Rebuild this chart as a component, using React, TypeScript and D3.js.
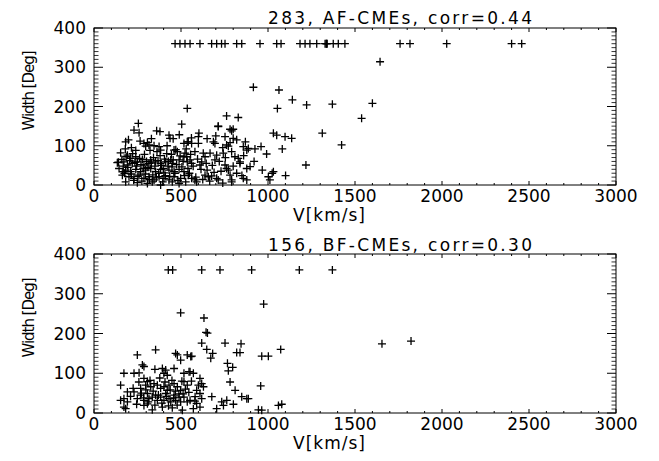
import React from 'react';
import * as d3 from 'd3';

// ---------- data ----------
const xTickValues = [0, 500, 1000, 1500, 2000, 2500, 3000];
const yTickValues = [0, 100, 200, 300, 400];

const afTitle = '283, AF-CMEs, corr=0.44';
const bfTitle = '156, BF-CMEs, corr=0.30';
const xLabel = 'V[km/s]';
const yLabel = 'Width [Deg]';

// AF-CMEs: halo events (width 360)
const afHaloV = [466, 494, 523, 552, 609, 676, 705, 733, 753, 820, 849, 954, 1050, 1075, 1184, 1213, 1241, 1280, 1328, 1334, 1337, 1340, 1375, 1404, 1442, 1759, 1816, 2027, 2400, 2458];

// AF-CMEs: sparse points [V, W]
const afSparse: [number, number][] = [
  [1644, 314], [1600, 208], [1538, 170], [916, 249], [1063, 242], [1140, 217], [1222, 204], [1370, 206],
  [1054, 195], [536, 195], [762, 176], [829, 172], [255, 157], [504, 155], [714, 149], [782, 142],
  [259, 133], [360, 138], [379, 136], [431, 127], [1031, 132], [1098, 123], [1136, 119], [1312, 132],
  [1423, 102], [1082, 92], [1218, 51], [967, 38], [1024, 30], [1101, 24], [992, 79], [960, 98],
  [925, 92], [887, 93], [897, 47], [140, 58], [167, 34],
];

// AF-CMEs: cluster 500-1050 km/s
const afMid: [number, number][] = [
  [714, 150], [800, 142], [791, 138], [603, 132], [600, 123], [753, 123], [800, 119], [820, 115],
  [686, 110], [695, 106], [542, 110], [561, 106], [600, 106], [782, 108], [762, 102], [772, 99],
  [858, 98], [878, 89], [523, 81], [533, 72], [552, 64], [561, 55], [580, 85], [628, 81],
  [638, 72], [619, 59], [609, 51], [667, 81], [705, 76], [695, 64], [743, 81], [791, 85],
  [810, 72], [829, 68], [839, 59], [839, 55], [753, 51], [762, 42], [772, 38], [878, 42],
  [1050, 127], [1031, 34], [542, 25], [561, 17], [580, 13], [590, 8], [638, 25], [657, 21],
  [676, 23], [705, 17], [714, 13], [782, 25], [791, 13], [791, 8], [858, 17], [878, 13],
  [1002, 21], [1011, 13],
];

// AF-CMEs: dense cluster 130-540 km/s
const afLow: [number, number][] = [
  [437, 119], [182, 110], [287, 106], [307, 108], [297, 99], [316, 102], [374, 98], [383, 89],
  [517, 106], [536, 110], [460, 89], [479, 85], [153, 82], [192, 76], [211, 68], [240, 72],
  [172, 59], [134, 57], [192, 51], [220, 55], [249, 59], [278, 65], [287, 51], [316, 55],
  [326, 64], [354, 59], [383, 55], [412, 59], [441, 64], [450, 55], [489, 64], [517, 72],
  [536, 59], [144, 42], [182, 38], [211, 34], [240, 40], [268, 34], [297, 38], [326, 42],
  [354, 34], [383, 40], [402, 31], [431, 38], [460, 34], [489, 40], [517, 34], [163, 25],
  [201, 21], [230, 17], [259, 25], [287, 17], [316, 21], [345, 13], [374, 21], [402, 17],
  [431, 13], [460, 21], [498, 17], [182, 8], [249, 6], [307, 4], [335, 8], [383, 0],
  [450, 8], [489, 4], [527, 8],
];

// AF-CMEs: further points of the dense cluster
const afFill: [number, number][] = [
  [160, 65], [168, 48], [175, 30], [185, 72], [195, 45], [205, 62], [215, 28], [222, 80],
  [228, 12], [235, 58], [245, 48], [252, 22], [262, 68], [270, 52], [275, 10], [283, 42],
  [290, 78], [295, 28], [302, 60], [310, 45], [318, 14], [322, 88], [330, 56], [338, 26],
  [342, 70], [350, 48], [358, 18], [362, 85], [368, 62], [372, 30], [380, 75], [388, 50],
  [395, 8], [398, 42], [405, 66], [410, 24], [418, 80], [425, 48], [428, 60], [435, 22],
  [445, 78], [448, 46], [455, 64], [465, 30], [470, 90], [475, 52], [482, 12], [495, 74],
  [505, 46], [512, 60], [520, 24], [530, 92], [540, 42], [548, 30], [555, 78], [570, 48],
  [585, 20], [595, 66], [615, 40], [625, 14], [645, 55], [650, 38], [665, 10], [680, 50],
  [690, 32], [720, 60], [730, 35], [740, 5], [755, 70], [800, 48], [820, 30], [850, 24],
  [860, 75], [215, 95], [265, 112], [330, 118], [455, 118], [490, 128], [345, 100], [240, 88],
  [180, 92], [198, 115], [420, 100], [560, 120], [650, 118], [700, 125], [740, 95], [870, 110],
  [920, 60], [230, 140],
];

// BF-CMEs: halo events (width 360)
const bfHaloV = [427, 452, 619, 724, 906, 1180, 1370];

// BF-CMEs: sparse points [V, W]
const bfSparse: [number, number][] = [
  [1655, 174], [1822, 181], [975, 274], [498, 252],
];

// BF-CMEs: cluster below 550 km/s
const bfLow: [number, number][] = [
  [249, 146], [354, 159], [469, 150], [479, 146], [536, 146], [556, 142], [498, 133], [278, 121],
  [287, 117], [172, 100], [230, 100], [259, 101], [393, 112], [412, 108], [402, 100], [421, 95],
  [460, 112], [517, 100], [546, 104], [153, 70], [192, 53], [230, 53], [268, 62], [287, 87],
  [307, 79], [297, 70], [326, 66], [345, 74], [364, 70], [383, 62], [402, 66], [421, 57],
  [431, 70], [460, 74], [479, 66], [498, 57], [517, 79], [536, 70], [153, 32], [172, 36],
  [192, 28], [172, 15], [182, 11], [249, 36], [268, 45], [287, 32], [307, 49], [316, 36],
  [335, 40], [354, 45], [364, 32], [383, 40], [402, 32], [412, 49], [431, 36], [441, 28],
  [460, 45], [469, 32], [489, 40], [498, 28], [335, 8], [393, 15], [450, 13], [508, 7],
  [517, 40], [536, 28], [287, 19], [307, 23],
];

// BF-CMEs: cluster 550-1100 km/s
const bfMid: [number, number][] = [
  [632, 239], [644, 203], [652, 201], [619, 176], [648, 160], [682, 150], [671, 138], [562, 143],
  [753, 176], [845, 174], [820, 152], [839, 152], [964, 143], [1002, 143], [1073, 160], [767, 125],
  [797, 115], [772, 106], [552, 104], [571, 100], [609, 87], [619, 74], [600, 70], [629, 66],
  [782, 78], [958, 68], [811, 57], [849, 41], [878, 36], [887, 36], [677, 41], [590, 57],
  [609, 49], [581, 41], [619, 36], [552, 32], [590, 24], [571, 11], [609, 15], [734, 28],
  [744, 19], [763, 32], [801, 22], [705, 11], [945, 8], [964, 7], [1060, 19], [1079, 22],
];

// BF-CMEs: further points of the dense cluster
const bfFill: [number, number][] = [
  [210, 42], [225, 62], [245, 22], [258, 78], [272, 50], [285, 38], [298, 58], [312, 28],
  [322, 82], [340, 55], [350, 20], [370, 45], [378, 88], [390, 25], [408, 78], [418, 42],
  [428, 18], [438, 58], [448, 82], [458, 38], [468, 55], [478, 20], [488, 48], [505, 80],
  [512, 48], [525, 60], [545, 52], [560, 80], [580, 30], [350, 110],
];

// ---------- layout ----------
const W = 659;
const H = 461;
const PLOT_LEFT = 94;
const PLOT_RIGHT = 616;
const FONT = '"DejaVu Sans", sans-serif';

type PanelProps = {
  top: number;
  bottom: number;
  title: string;
  titleY: number;
  haloV: number[];
  groups: [number, number][][];
};

function Panel({ top, bottom, title, titleY, haloV, groups }: PanelProps) {
  const x = d3.scaleLinear().domain([0, 3000]).range([PLOT_LEFT, PLOT_RIGHT]);
  const y = d3.scaleLinear().domain([0, 400]).range([bottom, top]);
  const xMinor = x.ticks(30).filter((v) => !xTickValues.includes(v));
  const yMinor = d3.range(0, 401, 10).filter((v) => !yTickValues.includes(v));
  const pts: [number, number][] = [
    ...haloV.map((v) => [v, 360] as [number, number]),
    ...groups.flat(),
  ];
  const xMaj = 4;
  const xMin = 2;
  const yMaj = 9;
  const yMin = 4.5;
  const s = 4;
  const midY = (top + bottom) / 2 - 16;
  return (
    <g>
      <rect x={PLOT_LEFT} y={top} width={PLOT_RIGHT - PLOT_LEFT} height={bottom - top} fill="none" stroke="#000" strokeWidth={1} />
      {/* x ticks (bottom and top) */}
      {xTickValues.map((v) => (
        <g key={'xM' + v}>
          <line x1={x(v)} x2={x(v)} y1={bottom} y2={bottom - xMaj} stroke="#000" />
          <line x1={x(v)} x2={x(v)} y1={top} y2={top + xMaj} stroke="#000" />
          <text x={x(v)} y={bottom + 17} textAnchor="middle" fontSize={17} fontFamily={FONT} fill="#000">{v}</text>
        </g>
      ))}
      {xMinor.map((v) => (
        <g key={'xm' + v}>
          <line x1={x(v)} x2={x(v)} y1={bottom} y2={bottom - xMin} stroke="#000" />
          <line x1={x(v)} x2={x(v)} y1={top} y2={top + xMin} stroke="#000" />
        </g>
      ))}
      {/* y ticks (left and right) */}
      {yTickValues.map((v) => (
        <g key={'yM' + v}>
          <line x1={PLOT_LEFT} x2={PLOT_LEFT + yMaj} y1={y(v)} y2={y(v)} stroke="#000" />
          <line x1={PLOT_RIGHT} x2={PLOT_RIGHT - yMaj} y1={y(v)} y2={y(v)} stroke="#000" />
          <text x={86} y={y(v) + 6} textAnchor="end" fontSize={17} fontFamily={FONT} fill="#000">{v}</text>
        </g>
      ))}
      {yMinor.map((v) => (
        <g key={'ym' + v}>
          <line x1={PLOT_LEFT} x2={PLOT_LEFT + yMin} y1={y(v)} y2={y(v)} stroke="#000" strokeWidth={0.8} />
          <line x1={PLOT_RIGHT} x2={PLOT_RIGHT - yMin} y1={y(v)} y2={y(v)} stroke="#000" strokeWidth={0.8} />
        </g>
      ))}
      {/* points */}
      <g stroke="#000" strokeWidth={1.3}>
        {pts.map(([v, w], i) => (
          <path key={i} d={`M${x(v) - s},${y(w)}H${x(v) + s}M${x(v)},${y(w) - s}V${y(w) + s}`} />
        ))}
      </g>
      {/* labels */}
      <text x={268} y={titleY} fontSize={17} fontFamily={FONT} fill="#000" textLength={264} lengthAdjust="spacing">{title}</text>
      <text x={293} y={bottom + 36} fontSize={17} fontFamily={FONT} fill="#000" textLength={72} lengthAdjust="spacing">{xLabel}</text>
      <text transform={`translate(34,${midY}) rotate(-90)`} textAnchor="middle" fontSize={15} fontFamily={FONT} fill="#000" textLength={80} lengthAdjust="spacing">{yLabel}</text>
    </g>
  );
}

export default function App() {
  return (
    <svg width={W} height={H} style={{ position: 'absolute', left: 0, top: 0, background: '#fff' }}>
      <rect width={W} height={H} fill="#fff" />
      <Panel top={28} bottom={185} title={afTitle} titleY={24} haloV={afHaloV} groups={[afSparse, afMid, afLow, afFill]} />
      <Panel top={254} bottom={413} title={bfTitle} titleY={251} haloV={bfHaloV} groups={[bfSparse, bfLow, bfMid, bfFill]} />
    </svg>
  );
}
